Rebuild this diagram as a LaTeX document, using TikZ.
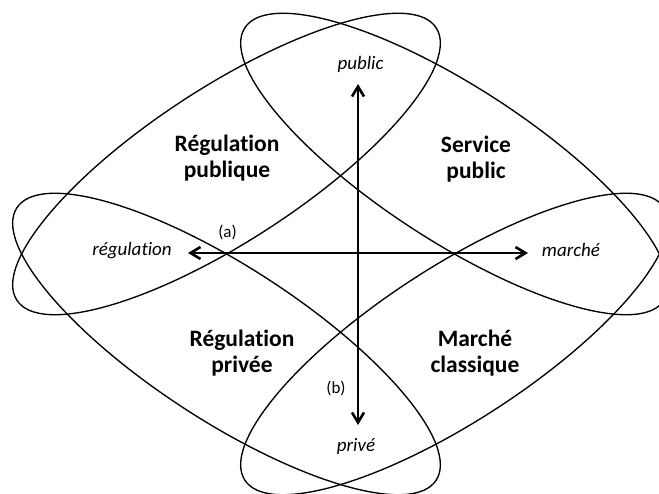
\documentclass[tikz,border=0pt]{standalone}
\usepackage{fontspec}
\setmainfont{Carlito}[Ligatures={NoCommon}]
\usetikzlibrary{arrows.meta}
\tikzset{
  loop/.style={draw=black, line width=1.35pt},
  axisarrow/.style={line width=2.6pt, {Straight Barb[length=10pt,width=12pt]}-{Straight Barb[length=10pt,width=12pt]}},
  quad/.style={font=\fontsize{23.5}{26}\selectfont\bfseries, align=center, inner sep=0pt},
  pole/.style={font=\fontsize{19}{22}\selectfont\itshape, inner sep=0pt, anchor=base},
  tagtext/.style={font=\fontsize{17}{20}\selectfont, inner sep=0pt, anchor=base}
}
\begin{document}
\begin{tikzpicture}[x=1pt,y=-1pt]
\useasboundingbox (0,0) rectangle (659,494);
\clip (0,0) rectangle (659,494);
% four ellipses
\draw[loop, shift={(226.5,164)}, rotate=33] (0,0) ellipse [x radius=250pt, y radius=77pt];
\draw[loop, shift={(454.5,164)}, rotate=-33] (0,0) ellipse [x radius=250pt, y radius=77pt];
\draw[loop, shift={(226.5,344)}, rotate=-33] (0,0) ellipse [x radius=250pt, y radius=77pt];
\draw[loop, shift={(454.5,344)}, rotate=33] (0,0) ellipse [x radius=250pt, y radius=77pt];
% axes
\coordinate (L) at (188,253);
\coordinate (R) at (528,253);
\coordinate (T) at (358,84);
\coordinate (B) at (358,425);
\draw[axisarrow] (L) -- (R);
\draw[axisarrow] (T) -- (B);
% pole labels
\node[pole] (pub) at (360.5,70) {public};
\node[pole] (priv) at (356,451) {privé};
\node[pole] (reg) at (132,256) {régulation};
\node[pole] (mar) at (571,257) {marché};
\node[tagtext] (a) at (227.5,238) {(a)};
\node[tagtext] (b) at (336,393) {(b)};
% quadrant labels
\node[quad] (rp) at (227,158.5) {Régulation\\publique};
\node[quad] (sp) at (476,159) {Service\\public};
\node[quad] (rv) at (242,353) {Régulation\\privée};
\node[quad] (mc) at (475,353) {Marché\\classique};
\end{tikzpicture}
\end{document}
